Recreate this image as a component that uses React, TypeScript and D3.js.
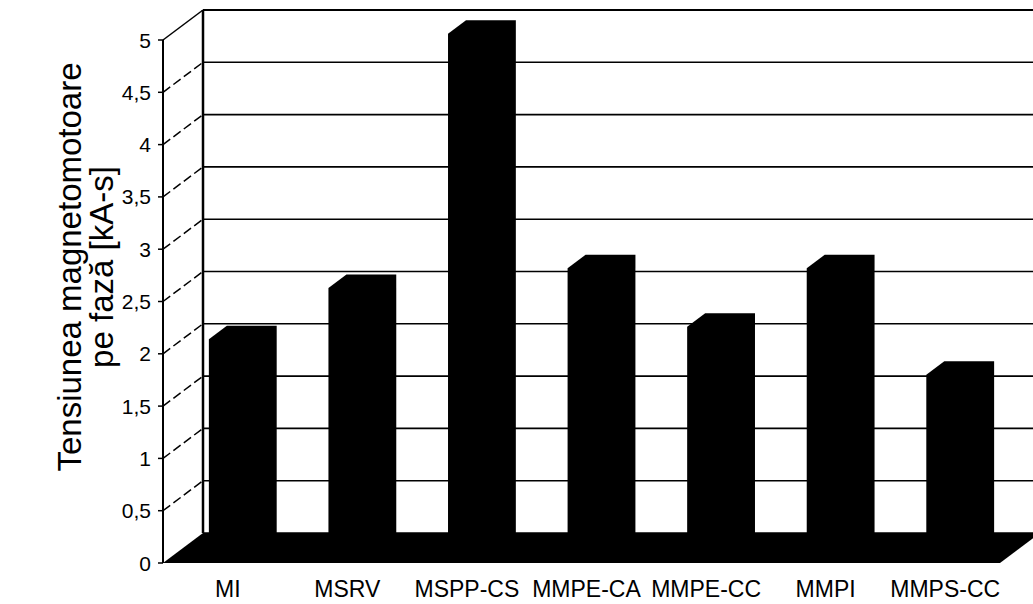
import React from "react";
import * as d3 from "d3";

const categories = ["MI", "MSRV", "MSPP-CS", "MMPE-CA", "MMPE-CC", "MMPI", "MMPS-CC"];
const values = [2.06, 2.55, 4.98, 2.74, 2.18, 2.74, 1.72];
const yTicks = [0, 0.5, 1, 1.5, 2, 2.5, 3, 3.5, 4, 4.5, 5];
const yTickLabels = ["0", "0,5", "1", "1,5", "2", "2,5", "3", "3,5", "4", "4,5", "5"];
const titleLines = ["Tensiunea magnetomotoare", "pe fază [kA-s]"];

const W = 1033;
const H = 604;
const X0 = 163;
const X1 = 1000;
const DX = 40;
const DY = -30;
const FRONT_D = 0.275;
const BACK_D = 0.725;
const FONT = "'Liberation Sans', Arial, sans-serif";

export default function App() {
  const y = d3.scaleLinear().domain([0, 5]).range([563, 40]);
  const band = d3
    .scaleBand<string>()
    .domain(categories)
    .range([X0, X1])
    .paddingInner(0.5833)
    .paddingOuter(0.29165);

  const fdx = DX * FRONT_D;
  const fdy = DY * FRONT_D;
  const bdx = DX * BACK_D;
  const bdy = DY * BACK_D;

  const floor = [
    [X0, y(0)],
    [X1, y(0)],
    [X1 + DX, y(0) + DY],
    [X0 + DX, y(0) + DY],
  ];

  return (
    <svg
      width={W}
      height={H}
      style={{ position: "absolute", left: 0, top: 0, background: "#fff" }}
      fontFamily={FONT}
    >
      <rect x={0} y={0} width={W} height={H} fill="#fff" />
      {/* back wall gridlines */}
      {yTicks.map((t) => (
        <line
          key={"bg" + t}
          x1={X0 + DX}
          x2={X1 + DX + 20}
          y1={y(t) + DY}
          y2={y(t) + DY}
          stroke="#000"
          strokeWidth={t === 5 ? 2.2 : 1.6}
        />
      ))}
      {/* left wall gridlines */}
      {yTicks.map((t) =>
        t === 0 ? null : (
          <line
            key={"lg" + t}
            x1={X0}
            y1={y(t)}
            x2={X0 + DX}
            y2={y(t) + DY}
            stroke="#000"
            strokeWidth={1.5}
            strokeDasharray={t === 5 ? undefined : "9,4"}
          />
        )
      )}
      {/* back axis */}
      <line x1={X0 + DX} x2={X0 + DX} y1={y(5) + DY} y2={y(0) + DY} stroke="#000" strokeWidth={2.5} />
      {/* floor */}
      <polygon points={floor.map((p) => p.join(",")).join(" ")} fill="#000" />
      {/* bars */}
      {categories.map((c, i) => {
        const v = values[i];
        const bx = (band(c) as number) + fdx;
        const w = band.bandwidth();
        const yt = y(v) + fdy;
        const yb = y(0) + fdy;
        const pts = [
          [bx, yb],
          [bx, yt],
          [bx + (bdx - fdx), yt + (bdy - fdy)],
          [bx + w + (bdx - fdx), yt + (bdy - fdy)],
          [bx + w + (bdx - fdx), yb + (bdy - fdy)],
          [bx + w, yb],
        ];
        return <polygon key={c} points={pts.map((p) => p.join(",")).join(" ")} fill="#000" />;
      })}
      {/* front axis */}
      <line x1={X0} x2={X0} y1={y(5)} y2={y(0)} stroke="#000" strokeWidth={2} />
      {yTicks.map((t, i) => (
        <g key={"t" + t}>
          <line x1={X0 - 5} x2={X0} y1={y(t)} y2={y(t)} stroke="#000" strokeWidth={1.5} />
          <text
            x={151}
            y={y(t)}
            textAnchor="end"
            dominantBaseline="central"
            fontSize={21}
            fill="#000"
          >
            {yTickLabels[i]}
          </text>
        </g>
      ))}
      {/* category labels */}
      {categories.map((c) => (
        <text
          key={"l" + c}
          x={(band(c) as number) + band.bandwidth() / 2 + 5}
          y={597}
          textAnchor="middle"
          fontSize={23}
          fill="#000"
        >
          {c}
        </text>
      ))}
      {/* axis title */}
      {titleLines.map((ln, i) => (
        <text
          key={"tt" + i}
          transform={`translate(${81 + i * 32},${267}) rotate(-90)`}
          textAnchor="middle"
          fontSize={33}
          fill="#000"
        >
          {ln}
        </text>
      ))}
    </svg>
  );
}
